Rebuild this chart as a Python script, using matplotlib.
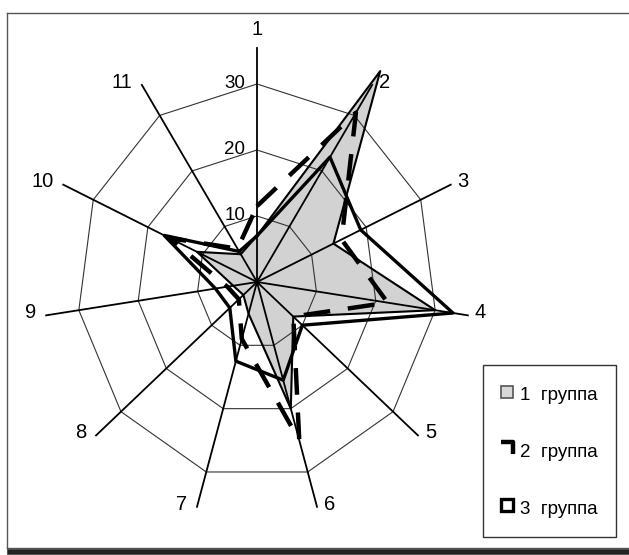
import numpy as np
import matplotlib
matplotlib.use("Agg")
from matplotlib import pyplot as plt
from matplotlib.lines import Line2D
from matplotlib.path import Path

plt.rcParams['font.family'] = ['Liberation Sans', 'DejaVu Sans']

# axes of the radar (11 indicators) and the three groups
categories = ['1', '2', '3', '4', '5', '6', '7', '8', '9', '10', '11']
group1 = [7, 38, 14, 30, 8, 20, 5, 3, 4, 11, 5]
group2 = [11.5, 30.5, 15.5, 22, 8, 25, 9, 4, 5, 16, 6]
group3 = [7, 22.5, 19, 33, 10, 15.5, 12.5, 6, 7, 17, 5.5]
series_names = ['1  группа', '2  группа', '3  группа']
ring_levels = [10, 20, 30]
axis_max = 35.5

W, H, DPI = 629, 555, 100
fig = plt.figure(figsize=(W / DPI, H / DPI), dpi=DPI)
ax = fig.add_axes([0, 0, 1, 1])
ax.axis('off')

# centre of the radar in pixels and pixels per unit (scan is slightly stretched vertically)
cx, cy, sx, sy = 257, 282, 6.0, 6.6
ax.set_xlim(-cx / sx, (W - cx) / sx)
ax.set_ylim(-(H - cy) / sy, cy / sy)

n = len(categories)
ang = np.deg2rad(90 - np.arange(n) * 360.0 / n)


def xy(vals):
    v = np.asarray(vals, dtype=float)
    x = v * np.cos(ang)
    y = v * np.sin(ang)
    return np.append(x, x[0]), np.append(y, y[0])


# group 1: grey area
x1, y1 = xy(group1)
ax.fill(x1, y1, facecolor='#d2d2d2', edgecolor='none', zorder=1)

# polygon grid, spokes and their labels
for lev in ring_levels:
    gx, gy = xy([lev] * n)
    ax.plot(gx, gy, color='#333333', lw=0.8, zorder=2)
    ax.text(-2.0, lev, str(lev), ha='right', va='center', fontsize=13.5, zorder=5)
for a, lab in zip(ang, categories):
    ex, ey = axis_max * np.cos(a), axis_max * np.sin(a)
    ax.plot([0, ex], [0, ey], color='black', lw=1.3, zorder=2)
    if abs(np.cos(a)) < 0.1:
        ax.annotate(lab, (ex, ey), xytext=(0, 6), textcoords='offset points',
                    ha='center', va='bottom', fontsize=14.5)
    else:
        dx = 5 if np.cos(a) > 0 else -7
        ax.annotate(lab, (ex, ey), xytext=(dx, 2), textcoords='offset points',
                    ha='left' if dx > 0 else 'right', va='center', fontsize=14.5)

ax.plot(x1, y1, color='black', lw=1.5, zorder=3)
x2, y2 = xy(group2)
ax.plot(x2, y2, color='black', lw=3.2, dashes=(6, 4), zorder=4)
x3, y3 = xy(group3)
ax.plot(x3, y3, color='black', lw=2.4, zorder=4)

# outer frame of the scanned chart
def px(x, y):
    return x / W, 1 - y / H

frame = [((7, 13), (W, 13)), ((7, 13), (7, 548)), ((7, 548), (W, 548))]
for p, q in frame:
    (a1, b1), (a2, b2) = px(*p), px(*q)
    fig.add_artist(Line2D([a1, a2], [b1, b2], transform=fig.transFigure, color='#555555', lw=1))
(a1, b1), (a2, b2) = px(10, 552), px(W, 552)
fig.add_artist(Line2D([a1, a2], [b1, b2], transform=fig.transFigure, color='#222222', lw=4))

# legend
corner = Path([(-1, 1), (1, 1), (1, -1)])
handles = [
    Line2D([], [], ls='none', marker='s', ms=8.5, mfc='#d8d8d8', mec='#555555', mew=1.2),
    Line2D([], [], ls='none', marker=corner, ms=8, mfc='none', mec='black', mew=3.2),
    Line2D([], [], ls='none', marker='s', ms=8.5, mfc='white', mec='black', mew=2.4),
]
leg = fig.legend(handles, series_names, loc='upper left', bbox_to_anchor=px(483, 365),
                 fontsize=13.5, frameon=True, fancybox=False, edgecolor='black',
                 labelspacing=1.8, handlelength=0.7, handleheight=1.5, handletextpad=0.35,
                 borderpad=0.95, borderaxespad=0)
leg.get_frame().set_linewidth(1)

fig.savefig('out.png', dpi=DPI)
